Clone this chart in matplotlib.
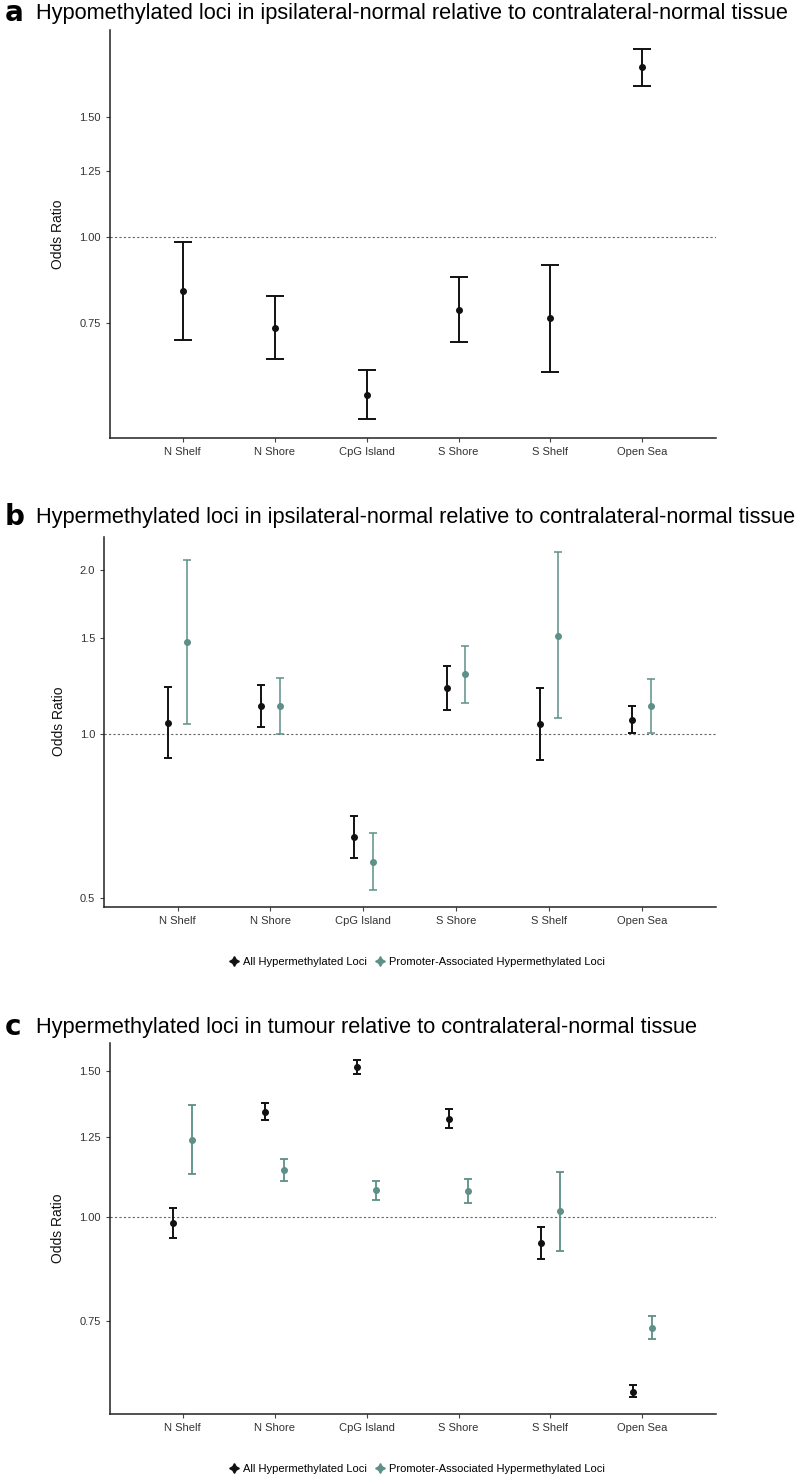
import matplotlib
matplotlib.use("Agg")
import matplotlib.pyplot as plt
from matplotlib.lines import Line2D
from matplotlib.ticker import FixedLocator, NullLocator
import numpy as np

plt.rcParams['font.family'] = ['Liberation Sans', 'DejaVu Sans']

regions = ["N Shelf", "N Shore", "CpG Island", "S Shore", "S Shelf", "Open Sea"]

# panel a: hypomethylated, ipsilateral vs contralateral normal
a_or = [0.835, 0.736, 0.588, 0.783, 0.762, 1.773]
a_lo = [0.708, 0.663, 0.542, 0.703, 0.636, 1.664]
a_hi = [0.983, 0.819, 0.640, 0.874, 0.912, 1.887]

# panel b: hypermethylated, ipsilateral vs contralateral normal
b_all_or = [1.049, 1.126, 0.647, 1.213, 1.043, 1.062]
b_all_lo = [0.902, 1.029, 0.591, 1.107, 0.896, 1.003]
b_all_hi = [1.218, 1.230, 0.707, 1.333, 1.216, 1.126]
b_prom_or = [1.473, 1.126, 0.583, 1.287, 1.515, 1.126]
b_prom_lo = [1.042, 1.000, 0.517, 1.142, 1.068, 1.006]
b_prom_hi = [2.086, 1.269, 0.657, 1.451, 2.155, 1.262]

# panel c: hypermethylated, tumour vs contralateral normal
c_all_or = [0.983, 1.338, 1.517, 1.314, 0.930, 0.616]
c_all_lo = [0.943, 1.307, 1.487, 1.281, 0.889, 0.607]
c_all_hi = [1.024, 1.371, 1.547, 1.348, 0.972, 0.627]
c_prom_or = [1.239, 1.138, 1.077, 1.075, 1.017, 0.736]
c_prom_lo = [1.126, 1.104, 1.048, 1.041, 0.911, 0.712]
c_prom_hi = [1.364, 1.175, 1.105, 1.110, 1.134, 0.760]

titles = ["Hypomethylated loci in ipsilateral-normal relative to contralateral-normal tissue",
          "Hypermethylated loci in ipsilateral-normal relative to contralateral-normal tissue",
          "Hypermethylated loci in tumour relative to contralateral-normal tissue"]
letters = ["a", "b", "c"]
legend_labels = ["All Hypermethylated Loci", "Promoter-Associated Hypermethylated Loci"]

BLACK = "#111111"
TEAL = "#5e8f88"


def pointrange(ax, x, y, lo, hi, color, capsize, lw, ms):
    y = np.array(y)
    err = [y - np.array(lo), np.array(hi) - y]
    ax.errorbar(x, y, yerr=err, fmt='o', color=color, ecolor=color,
                elinewidth=lw, capsize=capsize, capthick=lw, markersize=ms)


def style_axis(ax, yticks, ylabels, ylim):
    ax.set_yscale('log')
    ax.set_ylim(*ylim)
    ax.yaxis.set_major_locator(FixedLocator(yticks))
    ax.yaxis.set_minor_locator(NullLocator())
    ax.set_yticklabels(ylabels)
    ax.set_xlim(0.21, 6.8)
    ax.set_xticks(range(1, 7))
    ax.set_xticklabels(regions)
    ax.axhline(1.0, color="#666666", lw=0.8, ls=(0, (2, 2)), zorder=0)
    for s in ['top', 'right']:
        ax.spines[s].set_visible(False)
    for s in ['left', 'bottom']:
        ax.spines[s].set_linewidth(1.1)
        ax.spines[s].set_color("#222222")
    ax.tick_params(axis='both', labelsize=8, colors="#444444", length=3, width=0.8,
                   labelcolor="#333333")
    ax.set_ylabel("Odds Ratio", fontsize=10, color="#111111", labelpad=10)


fig = plt.figure(figsize=(8, 14.77), dpi=100)
x = np.arange(1, 7)

# panel a
ax1 = fig.add_axes([0.1375, 0.7037, 0.7575, 0.276])
pointrange(ax1, x, a_or, a_lo, a_hi, BLACK, 6.2, 1.4, 4)
style_axis(ax1, [0.75, 1.0, 1.25, 1.5], ["0.75", "1.00", "1.25", "1.50"], (0.509, 2.01))

# panel b
ax2 = fig.add_axes([0.1304, 0.3861, 0.7646, 0.2505])
pointrange(ax2, x - 0.1, b_all_or, b_all_lo, b_all_hi, BLACK, 2.7, 1.4, 4)
pointrange(ax2, x + 0.1, b_prom_or, b_prom_lo, b_prom_hi, TEAL, 2.7, 1.1, 4)
style_axis(ax2, [0.5, 1.0, 1.5, 2.0], ["0.5", "1.0", "1.5", "2.0"], (0.482, 2.30))

# panel c
ax3 = fig.add_axes([0.1375, 0.04265, 0.7575, 0.251])
pointrange(ax3, x - 0.1, c_all_or, c_all_lo, c_all_hi, BLACK, 2.8, 1.4, 4)
pointrange(ax3, x + 0.1, c_prom_or, c_prom_lo, c_prom_hi, TEAL, 2.8, 1.3, 4)
style_axis(ax3, [0.75, 1.0, 1.25, 1.5], ["0.75", "1.00", "1.25", "1.50"], (0.579, 1.619))

# titles
title_y = [13, 517, 1027]
for letter, title, ty in zip(letters, titles, title_y):
    yf = 1 - ty / 1477
    fig.text(0.006, yf, letter, fontsize=20, fontweight='heavy', family='DejaVu Sans',
             va='center', ha='left')
    fig.text(0.045, yf, title, fontsize=15.7, va='center', ha='left')

# legends
handles = [Line2D([], [], color=BLACK, marker=(4, 1, 0), ls='none', markersize=7),
           Line2D([], [], color=TEAL, marker=(4, 1, 0), ls='none', markersize=7)]
for ly in [961.7, 1469.3]:
    fig.legend(handles, legend_labels, loc='center', bbox_to_anchor=(0.52, 1 - ly / 1477),
               ncol=2, frameon=False, fontsize=8, handletextpad=0.2, columnspacing=0.6,
               handlelength=1.2)

fig.savefig("out.png", dpi=100)
